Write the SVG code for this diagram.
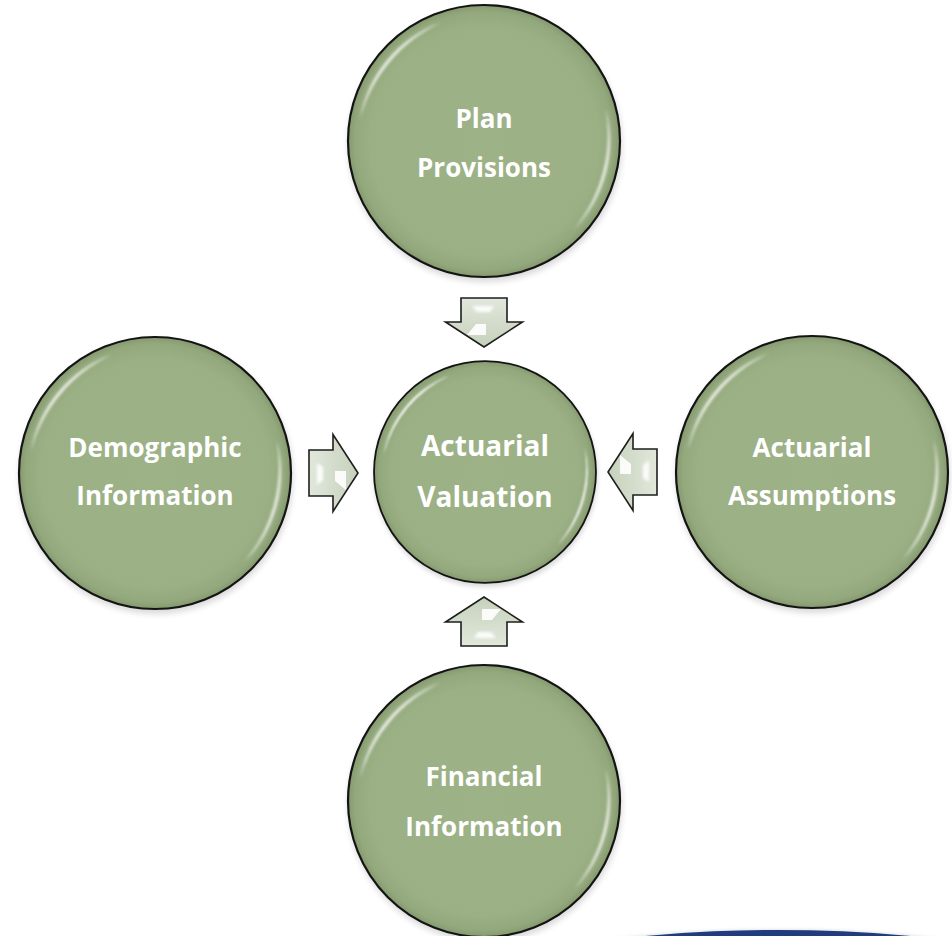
<svg xmlns="http://www.w3.org/2000/svg" xmlns:xlink="http://www.w3.org/1999/xlink" width="952" height="936" viewBox="0 0 952 936">
  <style>
    .label { font-family: "Open Sans", "Liberation Sans", sans-serif; font-weight: 700; font-size: 26px; fill: #ffffff; text-anchor: middle; }
    .label-lg { font-size: 28px; }
    .arrow-body { fill: url(#arrowFill); stroke: #1e1e1e; stroke-width: 1.6; stroke-linejoin: miter; }
    .arrow-glint { fill: #ffffff; opacity: 0.9; }
  </style>
  <defs>
    <radialGradient id="discFill" cx="0.5" cy="0.5" r="0.5">
      <stop offset="0" stop-color="#9db287"/>
      <stop offset="0.84" stop-color="#9bb084"/>
      <stop offset="0.95" stop-color="#93a87c"/>
      <stop offset="1" stop-color="#84996d"/>
    </radialGradient>
    <linearGradient id="arrowFill" x1="0" y1="0" x2="0" y2="1">
      <stop offset="0" stop-color="#e1e8db"/>
      <stop offset="1" stop-color="#c6d1bc"/>
    </linearGradient>
    <filter id="soft" x="-20%" y="-20%" width="140%" height="140%">
      <feGaussianBlur stdDeviation="1.6"/>
    </filter>
    <filter id="shadow" x="-20%" y="-20%" width="140%" height="140%">
      <feGaussianBlur stdDeviation="3"/>
    </filter>

    <!-- glossy disc, radius 136, centred on the origin -->
    <g id="disc">
      <circle cx="1" cy="4" r="137" fill="#000000" opacity="0.15" filter="url(#shadow)"/>
      <circle r="136" fill="url(#discFill)" stroke="#141414" stroke-width="2.2"/>
      <!-- upper-left gloss -->
      <path d="M -124.1 -21.9 A 126 126 0 0 1 -43.1 -118.4 A 148 148 0 0 0 -124.1 -21.9 Z"
            fill="#ffffff" opacity="0.95" filter="url(#soft)"/>
      <!-- lower-right gloss -->
      <path d="M 121.7 -32.6 A 126 126 0 0 1 89.1 89.1 A 148 148 0 0 0 121.7 -32.6 Z"
            fill="#ffffff" opacity="0.9" filter="url(#soft)"/>
    </g>

    <!-- block arrow pointing down, head base on the origin -->
    <g id="blockArrow">
      <path class="arrow-body" d="M -23 -24 L 23 -24 L 23 0 L 38.5 0 L 0 25 L -38.5 0 L -23 0 Z"/>
      <path class="arrow-glint" d="M -12 -16 L 10 -16 L 6 -10 L -7 -10 Z" filter="url(#soft)" opacity="0.75"/>
      <path class="arrow-glint" d="M -8 2 L 2 2 L 2 13 L -17 13 Z"/>
    </g>
  </defs>

  <!-- base swoosh in the corner -->
  <ellipse cx="778" cy="1000" rx="332" ry="71" fill="#cfd3dc" opacity="0.6" filter="url(#soft)"/>
  <ellipse cx="778" cy="1001" rx="330" ry="71" fill="#203c7c"/>

  <!-- connectors -->
  <g id="connectors">
    <use xlink:href="#blockArrow" transform="translate(484 322)"/>
    <use xlink:href="#blockArrow" transform="translate(333 473) rotate(-90)"/>
    <use xlink:href="#blockArrow" transform="translate(633 472) rotate(90)"/>
    <use xlink:href="#blockArrow" transform="translate(484 622) rotate(180)"/>
  </g>

  <g id="plan-provisions">
    <use xlink:href="#disc" transform="translate(484 141)"/>
    <text class="label" x="484" y="128">Plan</text>
    <text class="label" x="484" y="177">Provisions</text>
  </g>

  <g id="demographic-information">
    <use xlink:href="#disc" transform="translate(155 473)"/>
    <text class="label" x="155" y="457">Demographic</text>
    <text class="label" x="155" y="505">Information</text>
  </g>

  <g id="actuarial-valuation">
    <use xlink:href="#disc" transform="translate(485 472) scale(0.816)"/>
    <text class="label label-lg" x="485" y="456">Actuarial</text>
    <text class="label label-lg" x="485" y="507">Valuation</text>
  </g>

  <g id="actuarial-assumptions">
    <use xlink:href="#disc" transform="translate(812 472)"/>
    <text class="label" x="812" y="457">Actuarial</text>
    <text class="label" x="812" y="505">Assumptions</text>
  </g>

  <g id="financial-information">
    <use xlink:href="#disc" transform="translate(484 801)"/>
    <text class="label" x="484" y="786">Financial</text>
    <text class="label" x="484" y="836">Information</text>
  </g>
</svg>
